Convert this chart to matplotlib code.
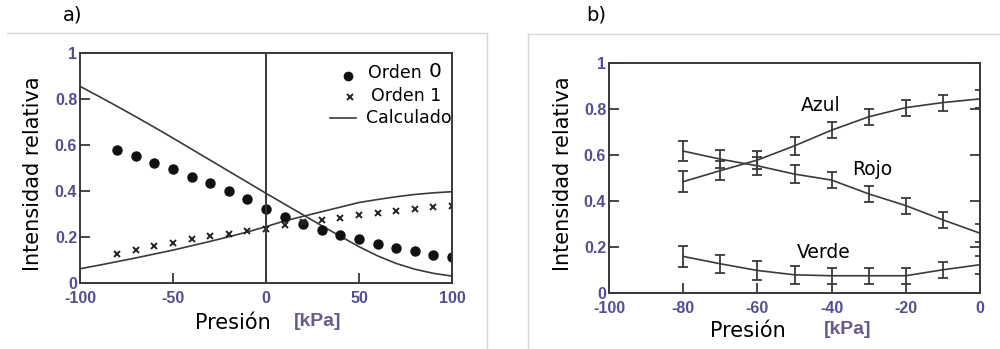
import matplotlib
matplotlib.use("Agg")
import matplotlib.pyplot as plt
from matplotlib.lines import Line2D

plt.rcParams["axes.unicode_minus"] = False

# ---------------- data (panel a) ----------------
pres_a = [-80, -70, -60, -50, -40, -30, -20, -10, 0, 10, 20, 30, 40, 50, 60, 70, 80, 90, 100]
orden0 = [0.577, 0.551, 0.522, 0.494, 0.461, 0.435, 0.400, 0.365, 0.323, 0.287, 0.258,
          0.232, 0.210, 0.190, 0.168, 0.154, 0.138, 0.123, 0.113]
orden1 = [0.128, 0.145, 0.159, 0.174, 0.191, 0.204, 0.214, 0.226, 0.235, 0.251, 0.265,
          0.272, 0.284, 0.294, 0.304, 0.313, 0.322, 0.329, 0.335]
pres_calc = [-100, -90, -80, -70, -60, -50, -40, -30, -20, -10, 0, 10, 20, 30, 40, 50, 60, 70, 80, 90, 100]
calc0 = [0.855, 0.812, 0.768, 0.723, 0.677, 0.630, 0.582, 0.534, 0.486, 0.438, 0.390,
         0.343, 0.296, 0.249, 0.203, 0.158, 0.118, 0.085, 0.060, 0.042, 0.030]
calc1 = [0.062, 0.077, 0.093, 0.109, 0.126, 0.143, 0.162, 0.181, 0.201, 0.222, 0.245,
         0.270, 0.290, 0.310, 0.330, 0.350, 0.363, 0.375, 0.385, 0.392, 0.397]

# ---------------- data (panel b) ----------------
pres_b = [-80, -70, -60, -50, -40, -30, -20, -10, 0]
azul = [0.484, 0.532, 0.578, 0.640, 0.708, 0.766, 0.806, 0.828, 0.844]
rojo = [0.617, 0.582, 0.553, 0.517, 0.491, 0.431, 0.380, 0.318, 0.260]
verde = [0.159, 0.127, 0.098, 0.079, 0.075, 0.075, 0.075, 0.101, 0.123]
err_b = [0.045, 0.04, 0.04, 0.04, 0.035, 0.035, 0.035, 0.035, 0.04]

xticks_a = [-100, -50, 0, 50, 100]
xticks_b = [-100, -80, -60, -40, -20, 0]
yticks = [0, 0.2, 0.4, 0.6, 0.8, 1]
ytick_labels = ["0", "0.2", "0.4", "0.6", "0.8", "1"]

W, H = 1000, 349
fig = plt.figure(figsize=(10, 3.49), dpi=100)

tick_col = "#545090"
spine_col = "#383838"
line_col = "#3a3a3a"
text_font = "DejaVu Sans"
tick_font = "Liberation Sans"


def fx(px):
    return px / W


def fy(py):
    return 1 - py / H


# frame lines (light gray panel borders)
fig.add_artist(Line2D([fx(7), fx(487)], [fy(33), fy(33)], color="#d6d6d6", lw=1))
fig.add_artist(Line2D([fx(487), fx(487)], [fy(33), fy(349)], color="#d6d6d6", lw=1))
fig.add_artist(Line2D([fx(528), fx(1000)], [fy(34), fy(34)], color="#d6d6d6", lw=1))
fig.add_artist(Line2D([fx(528), fx(528)], [fy(34), fy(349)], color="#d6d6d6", lw=1))

fig.text(fx(73), fy(15), "a)", fontsize=14, family=text_font, ha="center", va="center")
fig.text(fx(596), fy(15), "b)", fontsize=14, family=text_font, ha="center", va="center")


def style_axes(ax):
    for s in ax.spines.values():
        s.set_color(spine_col)
        s.set_linewidth(1.4)
    ax.set_yticks(yticks)
    ax.set_yticklabels(ytick_labels)
    ax.set_ylim(0, 1)
    ax.tick_params(direction="in", length=7, width=1.3, color=spine_col,
                   labelsize=11.5, labelcolor=tick_col, pad=2)
    ax.tick_params(axis="x", pad=5.5)
    for lab in ax.get_xticklabels() + ax.get_yticklabels():
        lab.set_family(tick_font)
        lab.set_fontweight("bold")


# ---------------- panel a ----------------
axa = fig.add_axes([fx(80), fy(283), fx(452) - fx(80), fy(53) - fy(283)])
axa.plot(pres_calc, calc0, color=line_col, lw=1.2)
axa.plot(pres_calc, calc1, color=line_col, lw=1.2)
axa.plot(pres_a, orden0, "o", color="#111111", ms=6.5)
axa.plot(pres_a, orden1, "x", color="#222222", ms=4.5, mew=1.4)
axa.axvline(0, color=spine_col, lw=1.4)
axa.set_xlim(-100, 100)
axa.set_xticks(xticks_a)
style_axes(axa)
axa.set_ylabel("Intensidad relativa", fontsize=15, family=text_font)
axa.yaxis.set_label_coords(-0.100, 0.474)

# legend (manual)
axa.plot([0.720], [0.900], "o", color="#111111", ms=6, transform=axa.transAxes, clip_on=False)
axa.plot([0.726], [0.809], "x", color="#222222", ms=4.5, mew=1.4, transform=axa.transAxes, clip_on=False)
axa.plot([0.672, 0.742], [0.717, 0.717], color=line_col, lw=1.2, transform=axa.transAxes)
axa.text(0.774, 0.913, "Orden", fontsize=12.5, family=text_font, transform=axa.transAxes, va="center")
axa.text(0.938, 0.918, "0", fontsize=14.5, family=text_font, transform=axa.transAxes, va="center")
axa.text(0.782, 0.813, "Orden 1", fontsize=12.5, family=text_font, transform=axa.transAxes, va="center")
axa.text(0.769, 0.717, "Calculado", fontsize=12.5, family=text_font, transform=axa.transAxes, va="center")

fig.text(fx(233), fy(323), "Presión", fontsize=15, family=text_font, ha="center", va="center")
fig.text(fx(318), fy(322), "[kPa]", fontsize=14, family=tick_font, fontweight="bold",
         color="#6a5a8a", ha="center", va="center")

# ---------------- panel b ----------------
axb = fig.add_axes([fx(609), fy(293), fx(980) - fx(609), fy(63) - fy(293)])
for series in (azul, rojo, verde):
    axb.errorbar(pres_b, series, yerr=err_b, color=line_col, lw=1.2,
                 elinewidth=1.3, capsize=3.5, capthick=1.3)
axb.set_xlim(-100, 0)
axb.set_xticks(xticks_b)
style_axes(axb)
axb.tick_params(axis="y", which="both", right=True)
axb.set_ylabel("Intensidad relativa", fontsize=15, family=text_font)
axb.yaxis.set_label_coords(-0.097, 0.52)
axb.text(-43, 0.816, "Azul", fontsize=13.5, family=text_font, ha="center", va="center")
axb.text(-29, 0.535, "Rojo", fontsize=13.5, family=text_font, ha="center", va="center")
axb.text(-42, 0.178, "Verde", fontsize=13.5, family=text_font, ha="center", va="center")

fig.text(fx(748), fy(331), "Presión", fontsize=15, family=text_font, ha="center", va="center")
fig.text(fx(848), fy(329), "[kPa]", fontsize=14, family=tick_font, fontweight="bold",
         color="#6a5a8a", ha="center", va="center")

fig.savefig("out.png", dpi=100)
